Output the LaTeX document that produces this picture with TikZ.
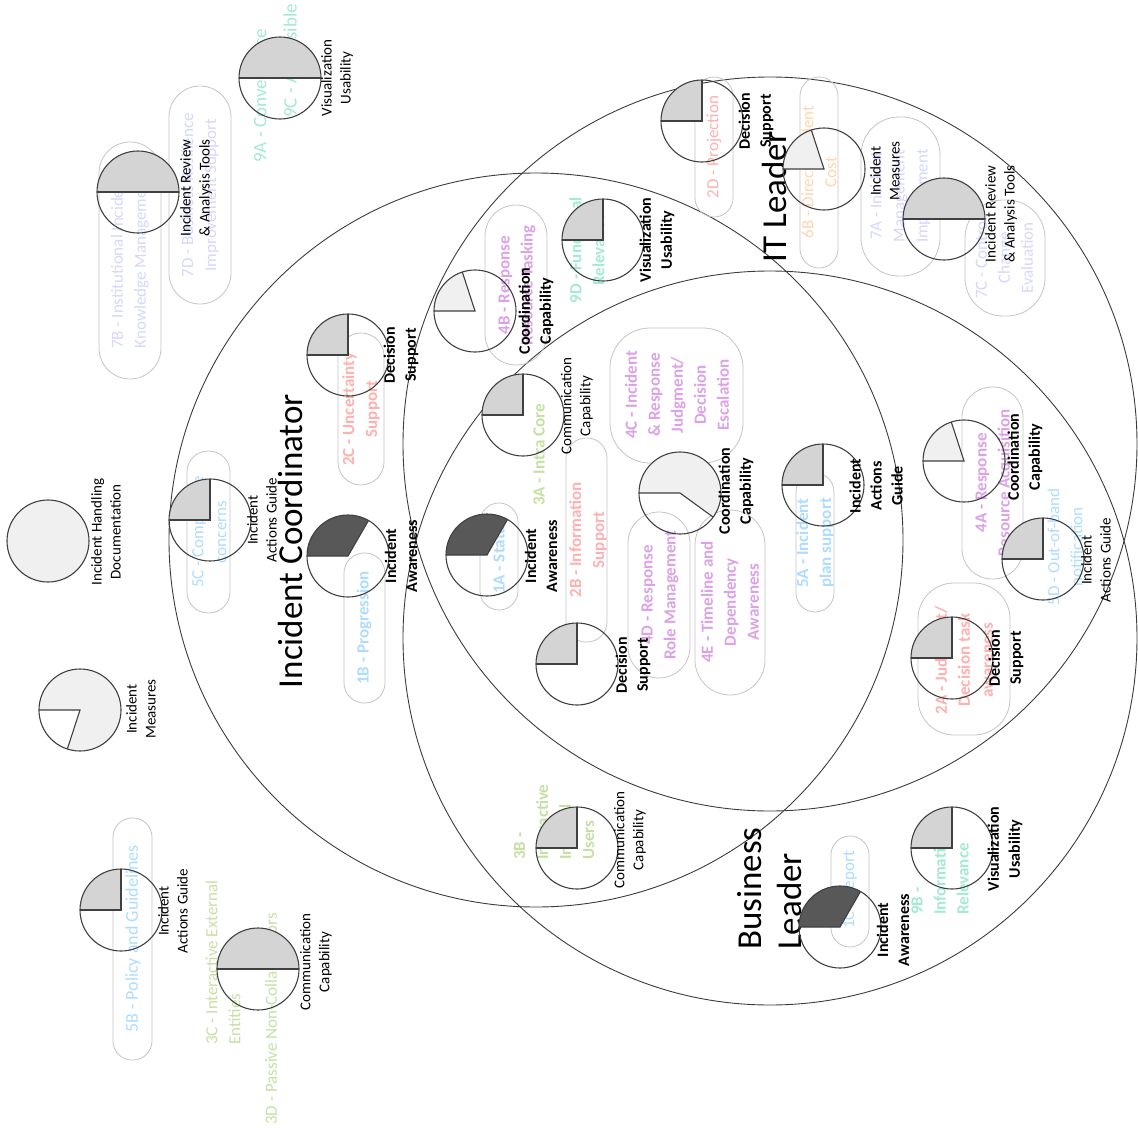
\documentclass[tikz,border=0pt]{standalone}
\usepackage{fontspec}
\setmainfont{Carlito}
\definecolor{ringc}{HTML}{3C3C3C}
\definecolor{piec}{HTML}{404040}
\definecolor{boxc}{HTML}{C4C4C4}
\definecolor{pielt}{HTML}{D4D4D4}
\definecolor{piepale}{HTML}{F0F0F0}
\definecolor{piedark}{HTML}{585858}
\definecolor{cpink}{HTML}{FFB0B0}
\definecolor{cblue}{HTML}{AEDCFF}
\definecolor{cgreen}{HTML}{C6E0A4}
\definecolor{cpurple}{HTML}{DCA2E6}
\definecolor{cteal}{HTML}{A4EAD2}
\definecolor{clav}{HTML}{D6D6FF}
\definecolor{cpeach}{HTML}{FFD6AE}
\begin{document}
\begin{tikzpicture}[x=1pt,y=-1pt,
  ring/.style={circle, draw=ringc, line width=0.9pt, minimum size=734pt, inner sep=0pt},
  pill/.style={draw=boxc, line width=0.8pt, rounded corners=#1, inner sep=0pt},
  tag/.style={rotate=90, align=center, inner sep=0pt, font=\fontsize{17}{23}\selectfont},
  tagb/.style={rotate=90, align=center, inner sep=0pt, font=\fontsize{17}{23}\selectfont\bfseries},
  lbl/.style={rotate=90, align=center, inner sep=0pt, font=\fontsize{15}{19}\selectfont},
  lblb/.style={rotate=90, align=center, inner sep=0pt, font=\fontsize{16}{21}\selectfont\bfseries},
  role/.style={rotate=90, inner sep=0pt, font=\fontsize{35}{40}\selectfont},
  pie/.style 2 args={circle, draw=piec, line width=1.1pt, minimum size=82pt, inner sep=0pt,
    path picture={
      \fill[#1] (path picture bounding box.center) -- ++(180:41)
        arc[start angle=180, end angle={180+#2}, radius=41] -- cycle;
      \draw[piec, line width=1.1pt] (path picture bounding box.center) ++(180:41)
        -- (path picture bounding box.center) -- ++({180+#2}:41);
    }},
  piefull/.style={circle, draw=piec, line width=1.1pt, minimum size=82pt, inner sep=0pt, fill=#1}
]
\useasboundingbox (0,0) rectangle (1138,1135);

% role circles
\node[ring] (ringIC) at (536,540) {};
\node[ring] (ringIT) at (770,444) {};
\node[ring] (ringBL) at (770,638) {};

% rounded boxes
\node[pill=31pt, minimum width=62pt, minimum height=237pt] (b7B) at (130,260.5) {};
\node[pill=31pt, minimum width=62pt, minimum height=218pt] (b7D) at (200,195) {};
\node[pill=23pt, minimum width=46pt, minimum height=152pt] (b2C) at (361,409) {};
\node[pill=21pt, minimum width=43pt, minimum height=162pt] (b5C) at (208.5,532) {};
\node[pill=20pt, minimum width=41pt, minimum height=150pt] (b1B) at (364.5,628) {};
\node[pill=31pt, minimum width=62pt, minimum height=160pt] (b4B) at (516,285) {};
\node[pill=19pt, minimum width=38pt, minimum height=107pt] (b1A) at (499,556.5) {};
\node[pill=20pt, minimum width=41pt, minimum height=204pt] (b2B) at (586.5,540) {};
\node[pill=40pt, minimum width=133pt, minimum height=135pt] (b4C) at (676.5,395.5) {};
\node[pill=31pt, minimum width=62pt, minimum height=166pt] (b4D) at (659,595) {};
\node[pill=35pt, minimum width=70pt, minimum height=185pt] (b4E) at (730,602.5) {};
\node[pill=19pt, minimum width=38pt, minimum height=139pt] (b5A) at (815,542.5) {};
\node[pill=30pt, minimum width=61pt, minimum height=192pt] (b4A) at (992.5,483) {};
\node[pill=36pt, minimum width=92pt, minimum height=152pt] (b2A) at (964,659) {};
\node[pill=19pt, minimum width=38pt, minimum height=111pt] (b1C) at (850,891.5) {};
\node[pill=19pt, minimum width=39pt, minimum height=242pt] (b5B) at (132.5,939) {};
\node[pill=19pt, minimum width=38pt, minimum height=140pt] (b2D) at (714,147) {};
\node[pill=19pt, minimum width=38pt, minimum height=191pt] (b6B) at (819,172.5) {};
\node[pill=38pt, minimum width=79pt, minimum height=159pt] (b7A) at (900.5,196.5) {};
\node[pill=38pt, minimum width=80pt, minimum height=116pt] (b7C) at (1005,258) {};

% coloured item texts
\node[tag, text=clav] (t7B) at (130,262) {7B - Institutional Incident\\Knowledge Management};
\node[tag, text=clav] (t7D) at (200,195) {7D - Business Resilience\\Improvement Support};
\node[tag, text=cteal, anchor=west, font=\fontsize{19}{23}\selectfont] (t9A) at (260,163) {9A - Convenience};
\node[tag, text=cteal, anchor=west, font=\fontsize{19}{23}\selectfont] (t9C) at (290,118) {9C - Accessible};
\node[tagb, text=cpink] (t2C) at (361,409) {2C - Uncertainty\\Support};
\node[tag, text=cblue] (t5C) at (209,532) {5C - Compliance\\concerns};
\node[tagb, text=cblue] (t1B) at (364,628) {1B - Progression};
\node[tagb, text=cpurple] (t4B) at (517,285) {4B - Response\\Resource Tasking};
\node[tagb, text=cteal] (t9D) at (587,250) {9D - Functional\\Relevance};
\node[tagb, text=cgreen] (t3A) at (539,455) {3A - Intra Core};
\node[tagb, text=cblue] (t1A) at (499,556) {1A - Status};
\node[tagb, text=cpink] (t2B) at (588,540) {2B - Information\\Support};
\node[tagb, text=cpurple] (t4C) at (677,395) {4C - Incident\\\& Response\\Judgment/\\Decision\\Escalation};
\node[tagb, text=cpurple] (t4D) at (660,595) {4D - Response\\Role Management};
\node[tagb, text=cpurple] (t4E) at (730,602) {4E - Timeline and\\Dependency\\Awareness};
\node[tagb, text=cblue] (t5A) at (815,543) {5A - Incident\\plan support};
\node[tagb, text=cpurple] (t4A) at (994,483) {4A - Response\\Resource Acquisition};
\node[tag, text=cblue] (t5D) at (1065,547) {5D - Out-of-band\\notification};
\node[tagb, text=cpink] (t2A) at (964,660) {2A - Judgment/\\Decision task\\awareness};
\node[tagb, text=cgreen, anchor=west, align=left] (t3B) at (554,860) {3B -\\Interactive\\Internal\\Users};
\node[tagb, text=cteal, anchor=west, align=left] (t9B) at (940,915) {9B -\\Information\\Relevance};
\node[tag, text=cblue] (t1C) at (850,890) {1C - Report};
\node[tag, text=cblue, font=\fontsize{18}{23}\selectfont] (t5B) at (133,939) {5B - Policy and Guidelines};
\node[tag, text=cgreen, anchor=west, align=left] (t3C) at (223,1045) {3C - Interactive External\\Entities};
\node[tag, text=cgreen, anchor=west] (t3D) at (271,1125) {3D - Passive Non-Collaborators};
\node[tag, text=cpink] (t2D) at (714,147) {2D - Projection};
\node[tag, text=cpeach] (t6B) at (819,172) {6B - Direct Incident\\Cost};
\node[tag, text=clav] (t7A) at (900,196) {7A - Incident\\Management\\Improvement};
\node[tag, text=clav] (t7C) at (1004,258) {7C - Control\\Change\\Evaluation};

% role titles
\node[role] (ic) at (290,541) {Incident Coordinator};
\node[role] (itl) at (774,197) {IT Leader};
\node[role, anchor=west, align=left] (bl) at (770,950) {Business\\Leader};

% harvey balls
\node[pie={pielt}{180}] (p9) at (280,78) {};
\node[pie={pielt}{180}] (p7L) at (138,192) {};
\node[pie={pielt}{90}] (p2C) at (348,355) {};
\node[piefull=piepale] (pIHD) at (48,541) {};
\node[pie={piepale}{288}] (pIM) at (80,710) {};
\node[pie={pielt}{90}] (p5C) at (210,520) {};
\node[pie={piedark}{120}] (p1B) at (348,556) {};
\node[pie={piepale}{72}] (p4B) at (475,311) {};
\node[pie={pielt}{90}] (p9D) at (603,240) {};
\node[pie={pielt}{90}] (p3A) at (523,415) {};
\node[pie={piedark}{120}] (p1A) at (487,555) {};
\node[pie={pielt}{90}] (p2B) at (577,664) {};
\node[pie={piepale}{216}] (p4C) at (680,493) {};
\node[pie={pielt}{90}] (p5A) at (823,485) {};
\node[pie={piepale}{72}] (p4A) at (964,461) {};
\node[pie={pielt}{90}] (p5D) at (1043,559) {};
\node[pie={pielt}{90}] (p2A) at (952,658) {};
\node[pie={pielt}{90}] (p3B) at (577,848) {};
\node[pie={piedark}{120}] (p1C) at (840,927) {};
\node[pie={pielt}{90}] (p9B) at (952,848) {};
\node[pie={pielt}{90}] (p5B) at (121,910) {};
\node[pie={pielt}{180}] (p3C) at (258,969) {};
\node[pie={pielt}{90}] (p2D) at (702,121) {};
\node[pie={piepale}{72}] (p6B) at (824,169) {};
\node[pie={pielt}{180}] (p7R) at (944,219) {};

% capability labels
\node[lbl] (l9) at (337,78) {Visualization\\Usability};
\node[lbl] (l7L) at (196,188) {Incident Review\\\& Analysis Tools};
\node[lblb] (l2C) at (401,355) {Decision\\Support};
\node[lbl] (lIHD) at (106,532) {Incident Handling\\Documentation};
\node[lbl] (lIM) at (141,709) {Incident\\Measures};
\node[lbl] (l5C) at (262,520) {Incident\\Actions Guide};
\node[lblb] (l1B) at (401,556) {Incident\\Awareness};
\node[lblb] (l4B) at (536,311) {Coordination\\Capability};
\node[lblb] (l9D) at (657,240) {Visualization\\Usability};
\node[lbl] (l3A) at (577,406) {Communication\\Capability};
\node[lblb] (l1A) at (541,556) {Incident\\Awareness};
\node[lblb] (l2B) at (633,665) {Decision\\Support};
\node[lblb] (l4C) at (736,491) {Coordination\\Capability};
\node[lblb] (l5A) at (876,486) {Incident\\Actions\\Guide};
\node[lblb] (l4A) at (1025,457) {Coordination\\Capability};
\node[lbl] (l5D) at (1096,560) {Incident\\Actions Guide};
\node[lblb] (l2A) at (1006,658) {Decision\\Support};
\node[lbl] (l3B) at (630,840) {Communication\\Capability};
\node[lblb] (l1C) at (893,930) {Incident\\Awareness};
\node[lblb] (l9B) at (1005,849) {Visualization\\Usability};
\node[lbl] (l5B) at (173,911) {Incident\\Actions Guide};
\node[lbl] (l3C) at (316,962) {Communication\\Capability};
\node[lblb] (l2D) at (756,121) {Decision\\Support};
\node[lbl] (l6B) at (885,171) {Incident\\Measures};
\node[lbl] (l7R) at (1001,214) {Incident Review\\\& Analysis Tools};
\end{tikzpicture}
\end{document}
